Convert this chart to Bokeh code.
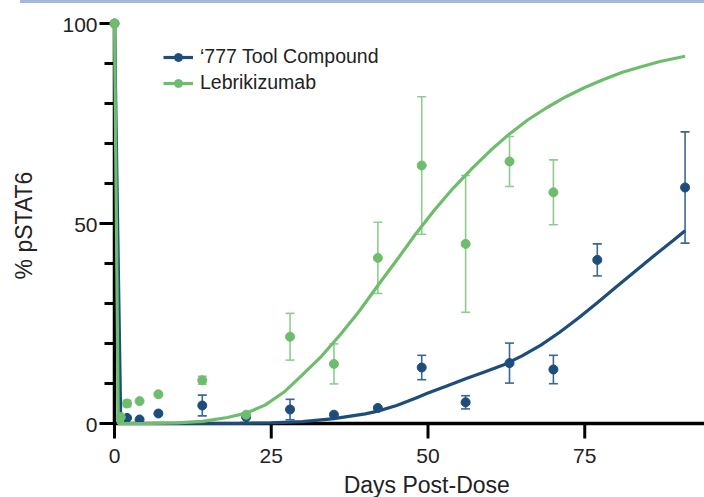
import numpy as np
from bokeh.plotting import figure
from bokeh.models import (ColumnDataSource, Whisker, TeeHead, Legend, LegendItem,
                          Range1d, Div)
from bokeh.core.properties import value
from bokeh.layouts import column
from bokeh.embed import file_html
from bokeh.resources import INLINE

# Measured %pSTAT6 (mean and SEM) per study day
days_777 = [0, 2, 4, 7, 14, 21, 28, 35, 42, 49, 56, 63, 70, 77, 91]
pstat_777 = [100, 1.4, 1.0, 2.5, 4.5, 1.6, 3.5, 2.2, 3.9, 14.0, 5.3, 15.1, 13.5, 40.9, 59.0]
sem_777 = [0, 0, 0, 0, 2.6, 0, 2.55, 0, 0, 3.05, 1.65, 5.0, 3.55, 4.0, 13.9]

days_leb = [0, 1, 2, 4, 7, 14, 21, 28, 35, 42, 49, 56, 63, 70]
pstat_leb = [100, 1.6, 5.0, 5.6, 7.3, 10.8, 2.2, 21.7, 14.9, 41.4, 64.5, 44.9, 65.5, 57.8]
sem_leb = [0, 0, 0.8, 0, 0, 1.0, 0, 5.85, 5.0, 8.9, 17.2, 17.1, 6.25, 8.1]

# Fitted recovery curves
fit_days_777 = [0, 1, 10, 20, 25, 30, 35, 40, 42, 45, 48, 50, 53, 56, 59, 62, 65, 68,
                71, 74, 77, 80, 83, 86, 89, 91]
fit_777 = [100, 0, 0, 0.05, 0.15, 0.45, 1.2, 2.4, 3.1, 4.5, 6.3, 7.6, 9.4, 11.2, 12.9,
           14.6, 16.9, 19.6, 22.8, 26.4, 30.2, 34.1, 38.0, 41.9, 45.6, 48.2]

fit_days_leb = [0, 0.6, 6, 10, 14, 18, 21, 24, 27, 30, 33, 36, 39, 42, 45, 48, 51, 54,
                57, 60, 63, 66, 69, 72, 75, 78, 81, 84, 87, 91]
fit_leb = [100, 0, 0.02, 0.15, 0.55, 1.5, 2.6, 4.6, 7.8, 12.2, 16.8, 22.2, 28.0, 34.5,
           40.8, 47.3, 53.3, 58.8, 63.7, 68.3, 72.4, 76.0, 79.0, 81.7, 84.0, 86.0,
           87.8, 89.2, 90.5, 91.8]

x_ticks = [0, 25, 50, 75]
y_ticks = [0, 50, 100]
y_minor_ticks = [10, 20, 30, 40, 60, 70, 80, 90]

BLUE = "#1d4e7b"
BLUE_ERR = "#3a6890"
GREEN = "#6dbd6d"
GREEN_ERR = "#8fcb8f"
INK = "#222222"
FONT = "Liberation Sans"

# canvas geometry: the whole figure is the plotting frame, axes are drawn by hand
W, H = 704, 494
ORIGIN_X, ORIGIN_Y = 114, 420      # pixel position of (0, 0) inside the figure
PX_PER_DAY, PX_PER_PCT = 6.27, 4.0

p = figure(width=W, height=H, output_backend="svg", toolbar_location=None,
           x_axis_type=None, y_axis_type=None,
           x_range=Range1d(-ORIGIN_X / PX_PER_DAY, (W - ORIGIN_X) / PX_PER_DAY),
           y_range=Range1d(-(H - ORIGIN_Y) / PX_PER_PCT, ORIGIN_Y / PX_PER_PCT),
           min_border=0)
p.outline_line_color = None
p.grid.visible = False

# axis lines
p.segment(x0=0, y0=y_ticks[0], x1=0, y1=y_ticks[-1], line_color="black", line_width=3.5)
p.ray(x=0, y=0, length=0, angle=0, line_color="black", line_width=3.5)
p.segment(x0=-0.28, y0=0, x1=0, y1=0, line_color="black", line_width=3.5)

# tick marks
p.ray(x=[0] * len(y_ticks), y=y_ticks, length=15, length_units="screen", angle=np.pi,
      line_color="black", line_width=3)
p.ray(x=[0] * len(y_minor_ticks), y=y_minor_ticks, length=10, length_units="screen",
      angle=np.pi, line_color="black", line_width=3)
p.ray(x=x_ticks, y=[0] * len(x_ticks), length=15, length_units="screen",
      angle=-np.pi / 2, line_color="black", line_width=3)

# tick labels
p.text(x=x_ticks, y=[0] * len(x_ticks), text=[str(t) for t in x_ticks],
       y_offset=32, text_align="center", text_baseline="middle",
       text_font=value(FONT), text_font_size=value("21px"), text_color=INK)
p.text(x=[0] * len(y_ticks), y=y_ticks, text=[str(t) for t in y_ticks],
       x_offset=-17, y_offset=1.5, text_align="right", text_baseline="middle",
       text_font=value(FONT), text_font_size=value("21px"), text_color=INK)

# axis titles
p.text(x=[49.8], y=[0], text=["Days Post-Dose"], y_offset=61, text_align="center",
       text_baseline="middle", text_font=value(FONT), text_font_size=value("23px"),
       text_color=INK)
p.text(x=[0], y=[49.5], text=["% pSTAT6"], x_offset=-90.5, angle=np.pi / 2,
       text_align="center", text_baseline="middle", text_font=value(FONT),
       text_font_size=value("23px"), text_color=INK)


def error_bars(days, vals, sems, color):
    rows = [(d, v - s, v + s) for d, v, s in zip(days, vals, sems) if s > 0]
    src = ColumnDataSource(dict(x=[r[0] for r in rows], lower=[r[1] for r in rows],
                                upper=[r[2] for r in rows]))
    w = Whisker(base="x", lower="lower", upper="upper", source=src,
                line_color=color, line_width=1.6,
                upper_head=TeeHead(size=9, line_color=color, line_width=1.6),
                lower_head=TeeHead(size=9, line_color=color, line_width=1.6))
    p.add_layout(w)


error_bars(days_777, pstat_777, sem_777, BLUE_ERR)
error_bars(days_leb, pstat_leb, sem_leb, GREEN_ERR)

l_777 = p.line(fit_days_777, fit_777, line_color=BLUE, line_width=3.2)
s_777 = p.scatter(days_777, pstat_777, size=9, fill_color=BLUE, line_color=BLUE)
l_leb = p.line(fit_days_leb, fit_leb, line_color=GREEN, line_width=3.2)
s_leb = p.scatter(days_leb, pstat_leb, size=9, fill_color=GREEN, line_color=GREEN)

legend = Legend(items=[LegendItem(label="\u2018777 Tool Compound", renderers=[l_777, s_777]),
                       LegendItem(label="Lebrikizumab", renderers=[l_leb, s_leb])],
                location=(163, 403), border_line_color=None, background_fill_alpha=0,
                padding=0, margin=0, spacing=3, glyph_width=30, glyph_height=20,
                label_height=20, label_standoff=7, label_text_font=FONT,
                label_text_font_size="19.5px", label_text_color=INK)
p.add_layout(legend)

top_rule = Div(text="", width=684, height=3, margin=(0, 0, 0, 20),
               styles={"background-color": "#a7b7d8"})

layout = column(top_rule, p, spacing=0)

with open("out.html", "w") as f:
    f.write(file_html(layout, INLINE, title="% pSTAT6"))
